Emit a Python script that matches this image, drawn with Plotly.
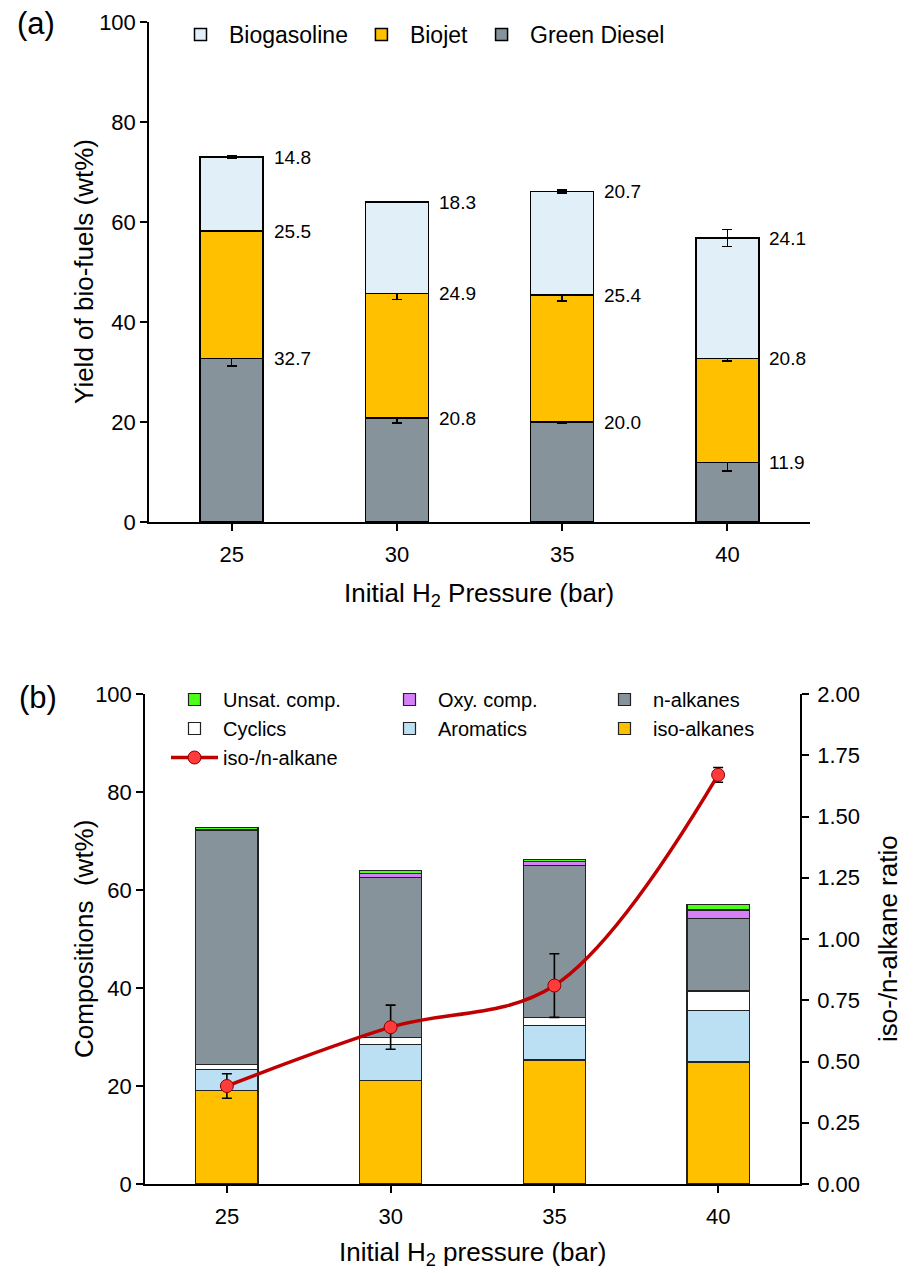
import plotly.graph_objects as go

# ---------------- data ----------------
pressure = [25, 30, 35, 40]

# (a) yields of bio-fuels (wt%)
green_diesel = [32.7, 20.8, 20.0, 11.9]
biojet = [25.5, 24.9, 25.4, 20.8]
biogasoline = [14.8, 18.3, 20.7, 24.1]
green_diesel_err = [1.5, 1.0, 0.2, 1.7]
biojet_err = [0.1, 1.2, 1.2, 0.5]
biogasoline_err = [0.3, 0.1, 0.3, 1.7]

# (b) compositions (wt%)
iso_alkanes = [19.1, 21.1, 25.3, 24.9]
aromatics = [4.3, 7.3, 7.0, 10.5]
cyclics = [1.0, 1.5, 1.7, 4.0]
n_alkanes = [47.7, 32.7, 31.0, 14.8]
oxy_comp = [0.2, 0.8, 0.8, 1.7]
unsat_comp = [0.5, 0.5, 0.5, 1.1]
iso_n_ratio = [0.40, 0.64, 0.81, 1.67]
iso_n_ratio_err = [0.05, 0.09, 0.13, 0.03]

# ---------------- style ----------------
W, H = 915, 1273
FONT = "Liberation Sans, Arial, sans-serif"
ML, MR = 145, 105
PW = W - ML - MR
BAR_W = 1.9

def px_x(p):
    return (p - ML) / PW

def px_y(p):
    return 1 - p / H

C_GASO = "#E1F0F8"
C_JET = "#FFC000"
C_DIESEL = "#87939B"
C_AROM = "#BBE0F3"
C_UNSAT = "#4CFF1A"
C_OXY = "#D580F7"
C_CYC = "#FFFFFF"

fig = go.Figure()

err_style = dict(type="data", color="black", thickness=1.6, width=5)

# ---- (a) ----
for name, vals, errs, col, rank in [
    ("Green Diesel", green_diesel, green_diesel_err, C_DIESEL, 3),
    ("Biojet", biojet, biojet_err, C_JET, 2),
    ("Biogasoline", biogasoline, biogasoline_err, C_GASO, 1),
]:
    fig.add_trace(go.Bar(
        x=pressure, y=vals, name=name, width=BAR_W,
        marker=dict(color=col, line=dict(color="black", width=1.5)),
        error_y=dict(array=errs, **err_style),
        xaxis="x", yaxis="y", legend="legend", legendrank=rank,
    ))

annotations = []
# value labels right of each segment top
cum = [0, 0, 0, 0]
for vals in [green_diesel, biojet, biogasoline]:
    for i, p in enumerate(pressure):
        cum[i] += vals[i]
        annotations.append(dict(
            x=p, y=cum[i], xref="x", yref="y", text=f"{vals[i]:.1f}",
            showarrow=False, xanchor="left", yanchor="middle",
            xshift=40, font=dict(size=19, color="black", family=FONT),
        ))

# ---- (b) ----
comp_series = [
    ("iso-alkanes", iso_alkanes, C_JET, 6),
    ("Aromatics", aromatics, C_AROM, 5),
    ("Cyclics", cyclics, C_CYC, 4),
    ("n-alkanes", n_alkanes, C_DIESEL, 3),
    ("Oxy. comp.", oxy_comp, C_OXY, 2),
    ("Unsat. comp.", unsat_comp, C_UNSAT, 1),
]
for name, vals, col, rank in comp_series:
    fig.add_trace(go.Bar(
        x=pressure, y=vals, name=name, width=BAR_W,
        marker=dict(color=col, line=dict(color="#222222", width=1.2)),
        xaxis="x2", yaxis="y2", legend="legend2", legendrank=rank,
    ))

fig.add_trace(go.Scatter(
    x=pressure, y=iso_n_ratio, name="iso-/n-alkane",
    mode="lines+markers",
    line=dict(color="#C00000", width=3.5, shape="spline", smoothing=1.0),
    marker=dict(color="#FF3B3B", size=13, line=dict(color="#8B0000", width=1)),
    error_y=dict(array=iso_n_ratio_err, **err_style),
    xaxis="x2", yaxis="y3", legend="legend2", legendrank=7,
))

# ---------------- axes ----------------
axis_common = dict(
    showline=True, linecolor="black", linewidth=1.5,
    ticks="outside", ticklen=7, tickwidth=1.5, tickcolor="black",
    showgrid=False, zeroline=False, automargin=False,
    tickfont=dict(size=22, color="black", family=FONT),
)
TITLE_SIZE = 26

def title_ann(text, x, y, angle=0):
    return dict(text=text, x=px_x(x), y=px_y(y), xref="paper", yref="paper",
                showarrow=False, xanchor="center", yanchor="middle",
                textangle=angle,
                font=dict(size=TITLE_SIZE, family=FONT, color="black"))

annotations += [
    title_ann("Yield of bio-fuels (wt%)", 84, 272, -90),
    title_ann("Initial H<sub>2</sub> Pressure (bar)", 479, 594),
    title_ann("Compositions  (wt%)", 84, 939, -90),
    title_ann("iso-/n-alkane ratio", 888, 939, -90),
    title_ann("Initial H<sub>2</sub> pressure (bar)", 472, 1253),
    dict(text="(a)", x=px_x(36), y=px_y(24), xref="paper", yref="paper",
         showarrow=False, xanchor="center", yanchor="middle",
         font=dict(size=31, family=FONT, color="black")),
    dict(text="(b)", x=px_x(38), y=px_y(697), xref="paper", yref="paper",
         showarrow=False, xanchor="center", yanchor="middle",
         font=dict(size=31, family=FONT, color="black")),
]

fig.update_layout(
    width=W, height=H,
    margin=dict(l=ML, r=MR, t=0, b=0),
    paper_bgcolor="white", plot_bgcolor="white",
    font=dict(family=FONT, color="black"),
    barmode="stack",
    xaxis=dict(domain=[px_x(149), px_x(810)], range=[22.5, 42.5],
               tickvals=pressure, anchor="y", ticklabelstandoff=5,
               **axis_common),
    yaxis=dict(domain=[px_y(522), px_y(22)], range=[0, 100], dtick=20,
               anchor="x", **axis_common),
    xaxis2=dict(domain=[px_x(145), px_x(800)], range=[22.5, 42.5],
                tickvals=pressure, anchor="y2", ticklabelstandoff=5,
                **axis_common),
    yaxis2=dict(domain=[px_y(1184), px_y(694)], range=[0, 100], dtick=20,
                anchor="x2", **axis_common),
    yaxis3=dict(range=[0, 2], dtick=0.25, tickformat=".2f",
                overlaying="y2", side="right", anchor="x2",
                ticklabelstandoff=4, **axis_common),
    legend=dict(
        orientation="h", x=px_x(172), xanchor="left",
        y=px_y(13), yanchor="top", traceorder="normal",
        bgcolor="rgba(0,0,0,0)", font=dict(size=23, family=FONT, color="black"),
        itemwidth=47,
    ),
    legend2=dict(
        orientation="h", x=px_x(166), xanchor="left",
        y=px_y(680), yanchor="top", traceorder="normal",
        bgcolor="rgba(0,0,0,0)", font=dict(size=20, family=FONT, color="black"),
        itemwidth=47, entrywidth=153, entrywidthmode="pixels",
    ),
    annotations=annotations,
)

fig.write_html("out.html")
